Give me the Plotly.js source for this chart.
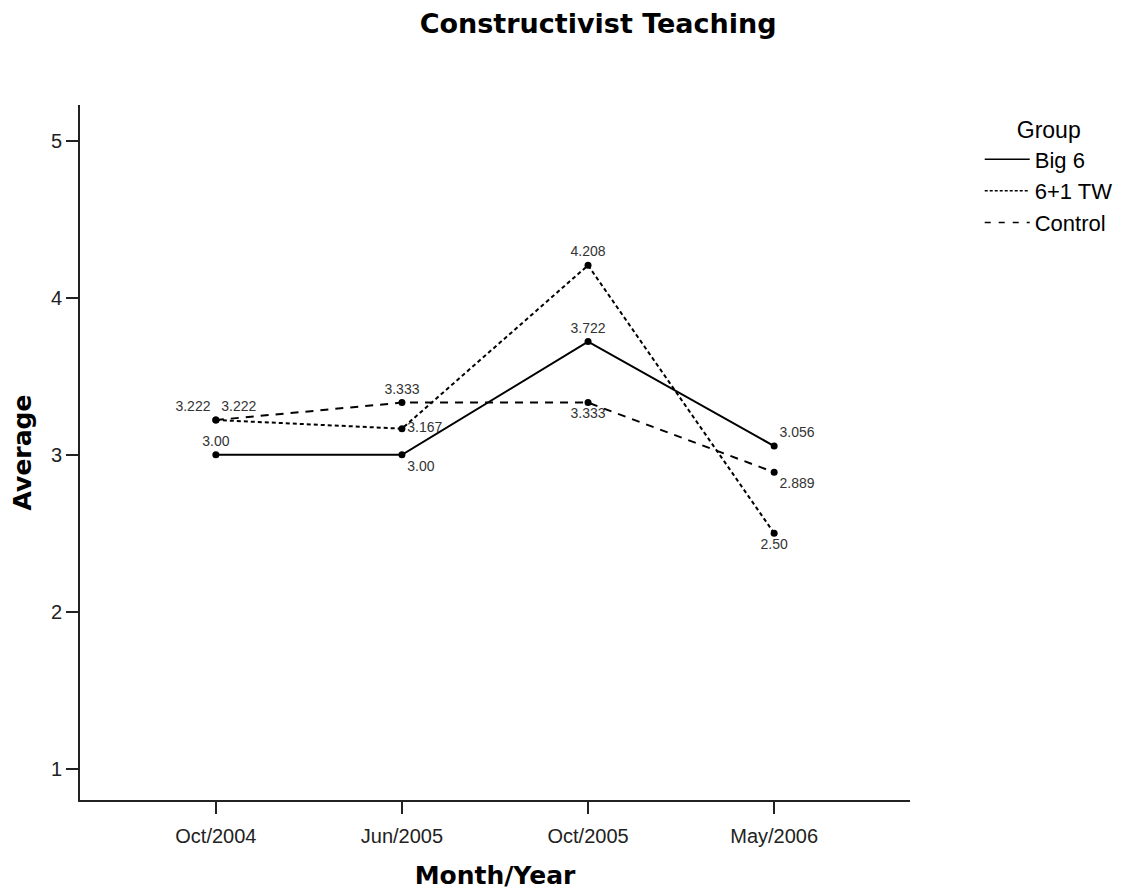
<!DOCTYPE html>
<html>
<head>
<meta charset="utf-8">
<script src="https://cdn.plot.ly/plotly-3.0.1.min.js"></script>
<style>html,body{margin:0;padding:0;background:#fff;}#chart{width:1135px;height:890px;}</style>
</head>
<body>
<div id="chart"></div>
<script>
var categories = ["Oct/2004", "Jun/2005", "Oct/2005", "May/2006"];
var big6 = [3.00, 3.00, 3.722, 3.056];
var big6Labels = ["3.00", "3.00", "3.722", "3.056"];
var tw = [3.222, 3.167, 4.208, 2.50];
var twLabels = ["3.222", "3.167", "4.208", "2.50"];
var control = [3.222, 3.333, 3.333, 2.889];
var controlLabels = ["3.222", "3.333", "3.333", "2.889"];
var groupNames = ["Big 6", "6+1 TW", "Control"];
var yTicks = [1, 2, 3, 4, 5];

var dashes = ["solid", "4px,3px", "8px,7px"];
var legendDashes = ["solid", "3px,2px", "6px,8px"];
var labelFont = {family: "Liberation Sans, Arial", size: 14, color: "#333"};
function mk(name, y, labels, dash, pos) {
  return {
    x: categories, y: y, name: name, type: "scatter", mode: "lines+markers+text",
    text: labels, textposition: pos, textfont: labelFont,
    line: {color: "#000", width: 2, dash: dash},
    marker: {color: "#000", size: 7},
    cliponaxis: false, showlegend: false
  };
}
function legendOnly(name, dash) {
  return {
    x: [null], y: [null], name: name, type: "scatter", mode: "lines",
    line: {color: "#000", width: 1.5, dash: dash}, showlegend: true
  };
}
var data = [
  mk(groupNames[0], big6, big6Labels, dashes[0], ["top center", "bottom right", "top center", "top right"]),
  mk(groupNames[1], tw, twLabels, dashes[1], ["top right", "middle right", "top center", "bottom center"]),
  mk(groupNames[2], control, controlLabels, dashes[2], ["top left", "top center", "bottom center", "bottom right"]),
  legendOnly(groupNames[0], legendDashes[0]),
  legendOnly(groupNames[1], legendDashes[1]),
  legendOnly(groupNames[2], legendDashes[2])
];
var boldFont = "DejaVu Sans, Liberation Sans, Arial";
var layout = {
  width: 1135, height: 890,
  paper_bgcolor: "#fff", plot_bgcolor: "#fff",
  margin: {l: 80, r: 225, t: 105, b: 90},
  font: {family: "Liberation Sans, Arial", color: "#000"},
  title: {text: "<b>Constructivist Teaching</b>", font: {family: boldFont, size: 27, color: "#000"},
          x: 0.527, xref: "container", xanchor: "center", y: 0.973, yref: "container", yanchor: "middle"},
  xaxis: {
    type: "category", range: [-0.73, 3.73],
    showline: true, linecolor: "#222", linewidth: 2, showgrid: false, zeroline: false,
    ticks: "outside", ticklen: 12, tickwidth: 2, tickcolor: "#222", ticklabelstandoff: 5,
    tickfont: {size: 20, color: "#222"},
    title: {text: "<b>Month/Year</b>", font: {family: boldFont, size: 25}, standoff: 20}
  },
  yaxis: {
    range: [0.8, 5.23], tickvals: yTicks,
    showline: true, linecolor: "#222", linewidth: 2, showgrid: false, zeroline: false,
    ticks: "outside", ticklen: 12, tickwidth: 2, tickcolor: "#222", tickfont: {size: 20, color: "#222"},
    title: {text: "<b>Average</b>", font: {family: boldFont, size: 25}, standoff: 12}
  },
  showlegend: true,
  legend: {
    x: 1.084, y: 0.995, xanchor: "left", yanchor: "top",
    title: {text: "Group", font: {size: 23}, side: "top center"},
    font: {size: 22}, tracegroupgap: 0, itemwidth: 45,
    bgcolor: "rgba(0,0,0,0)"
  }
};
Plotly.newPlot("chart", data, layout, {displayModeBar: false, staticPlot: true});
</script>
</body>
</html>
